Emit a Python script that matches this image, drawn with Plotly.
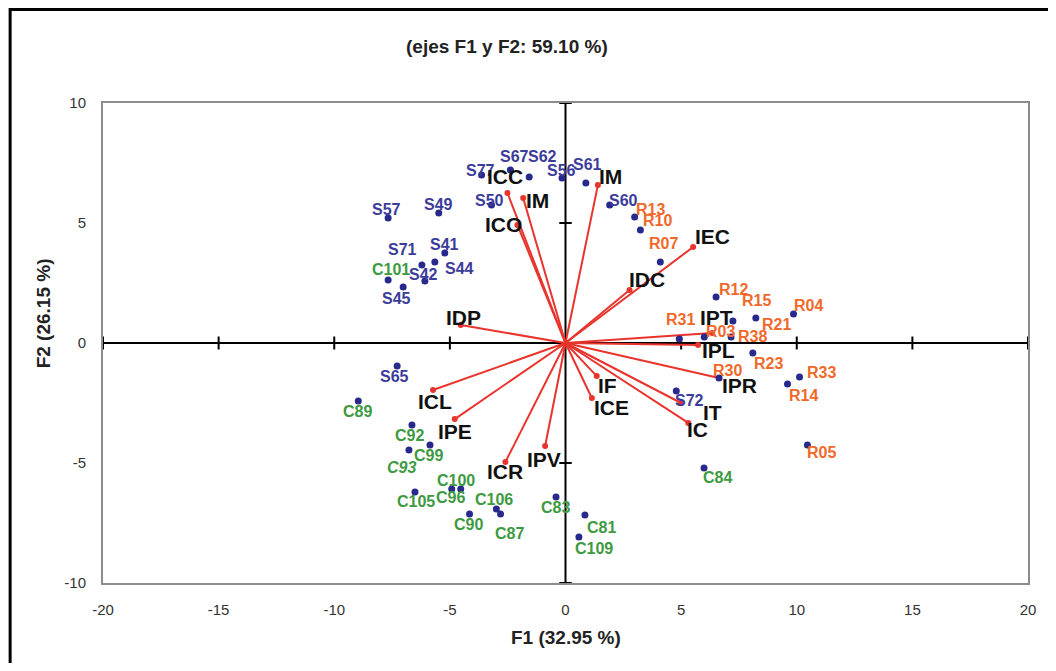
import plotly.graph_objects as go

# ---------------- data ----------------
title_text = "(ejes F1 y F2: 59.10 %)"
x_title = "F1 (32.95 %)"
y_title = "F2 (26.15 %)"

x_ticks = [-20, -15, -10, -5, 0, 5, 10, 15, 20]
x_tick_text = ["-20", "-15", "-10", "-5", "0", "5", "10", "15", "20"]
y_ticks = [-10, -5, 0, 5, 10]
y_tick_text = ["-10", "-5", "0", "5", "10"]

# observations, group S (blue labels)
s_names = ["S77", "S67", "S62", "S56", "S61", "S50", "S57", "S49", "S71", "S41",
           "S44", "S42", "S45", "S60", "S65", "S72"]
s_x = [-3.63, -2.38, -1.57, -0.15, 0.88, -3.20, -7.67, -5.48, -6.21, -5.22,
       -5.65, -6.08, -7.02, 1.91, -7.28, 4.79]
s_y = [7.00, 7.21, 6.92, 6.88, 6.67, 5.75, 5.21, 5.42, 3.25, 3.75,
       3.38, 2.58, 2.33, 5.75, -0.96, -2.00]

# observations, group R (orange labels)
r_names = ["R13", "R10", "R07", "R12", "R15", "R04", "R21", "R31", "R03", "R38",
           "R23", "R30", "R33", "R14", "R05"]
r_x = [2.99, 3.24, 4.10, 6.51, 7.24, 9.86, 8.23, 4.92, 6.00, 7.16,
       8.10, 6.64, 10.12, 9.60, 10.46]
r_y = [5.25, 4.71, 3.38, 1.92, 0.92, 1.21, 1.04, 0.17, 0.25, 0.25,
       -0.42, -1.46, -1.42, -1.71, -4.25]

# observations, group C (green labels)
c_names = ["C101", "C89", "C92", "C99", "C93", "C100", "C105", "C96", "C106", "C90",
           "C87", "C83", "C81", "C109", "C84"]
c_x = [-7.67, -8.96, -6.64, -5.86, -6.77, -4.53, -6.51, -4.92, -2.99, -4.15,
       -2.81, -0.41, 0.84, 0.58, 5.99]
c_y = [2.63, -2.42, -3.42, -4.25, -4.46, -6.08, -6.21, -6.08, -6.92, -7.13,
       -7.13, -6.42, -7.17, -8.08, -5.21]

# variables (vectors)
v_names = ["ICC", "IM", "ICO", "IM", "IEC", "IDC", "IPT", "IPL", "IPR", "IT",
           "IC", "IF", "ICE", "IDP", "ICL", "IPE", "ICR", "IPV"]
v_x = [-2.51, -1.83, -2.08, 1.40, 5.52, 2.77, 6.34, 5.73, 6.64, 5.00,
       5.31, 1.35, 1.14, -4.53, -5.73, -4.79, -2.60, -0.88]
v_y = [6.25, 6.04, 4.92, 6.58, 4.00, 2.21, 0.42, -0.08, -1.46, -2.50,
       -3.33, -1.38, -2.29, 0.75, -1.96, -3.17, -4.96, -4.29]

# ---------------- styling ----------------
# label offsets in pixels (dx right, dy up)
s_off = [(-1, 5), (4, 13), (13, 20), (-1, 7), (2, 18), (-2, 5), (-2, 8), (0, 8), (-19, 16), (0, 9),
         (25, -7), (-1, 7), (-7, -11), (14, 5), (-3, -10), (13, -9)]
r_off = [(16, 8), (17, 9), (3, 18), (17, 7), (24, 20), (15, 8), (21, -6), (1, 19), (16, 6), (21, 1),
         (16, -10), (8, 8), (22, 5), (16, -11), (14, -7)]
c_off = [(3, 10), (-1, -10), (-2, -10), (-1, -10), (-7, -17), (-5, 8), (1, -9), (-1, -9), (-2, 10), (-1, -10),
         (9, -19), (-1, -10), (17, -12), (15, -12), (13, -9)]
v_off = [(-2, 17), (14, -2), (-14, 0), (13, 9), (19, 11), (17, 10), (4, 15), (20, -6), (20, -7), (31, -9),
         (9, -7), (11, -9), (20, -10), (3, 8), (2, -11), (0, -12), (0, -9), (-1, -14)]

BLUE_LBL = "#3c3c9a"
ORANGE_LBL = "#f0692a"
GREEN_LBL = "#3d9a42"
DOT = "#272a8c"
RED = "#e8342c"
FONT = "Liberation Sans, Arial, sans-serif"

fig = go.Figure()

# vectors
vx, vy = [], []
for x, y in zip(v_x, v_y):
    vx += [0, x, None]
    vy += [0, y, None]
fig.add_trace(go.Scatter(x=vx, y=vy, mode="lines", line=dict(color=RED, width=2),
                         hoverinfo="skip", showlegend=False))
fig.add_trace(go.Scatter(x=v_x, y=v_y, mode="markers", marker=dict(color=RED, size=6),
                         hoverinfo="skip", showlegend=False))

# observation dots
all_x = s_x + r_x + c_x
all_y = s_y + r_y + c_y
fig.add_trace(go.Scatter(x=all_x, y=all_y, mode="markers",
                         marker=dict(color=DOT, size=7),
                         hoverinfo="skip", showlegend=False))

annotations = []

def add_labels(names, xs, ys, offs, color, size):
    for n, x, y, (dx, dy) in zip(names, xs, ys, offs):
        txt = "<b>%s</b>" % n
        if n == "C93":
            txt = "<i><b>%s</b></i>" % n
        annotations.append(dict(x=x, y=y, xref="x", yref="y", text=txt, showarrow=False,
                                xshift=dx, yshift=dy, xanchor="center", yanchor="middle",
                                font=dict(family=FONT, size=size, color=color)))

add_labels(s_names, s_x, s_y, s_off, BLUE_LBL, 16)
add_labels(r_names, r_x, r_y, r_off, ORANGE_LBL, 16)
add_labels(c_names, c_x, c_y, c_off, GREEN_LBL, 16)
add_labels(v_names, v_x, v_y, v_off, "#111111", 21)

# titles
annotations.append(dict(x=0.437, y=1.117, xref="paper", yref="paper", text="<b>%s</b>" % title_text,
                        showarrow=False, xanchor="center", yanchor="middle",
                        font=dict(family=FONT, size=19, color="#222222")))
annotations.append(dict(x=0.50, y=-0.1125, xref="paper", yref="paper", text="<b>%s</b>" % x_title,
                        showarrow=False, xanchor="center", yanchor="middle",
                        font=dict(family=FONT, size=19, color="#222222")))
annotations.append(dict(x=-0.0645, y=0.5625, xref="paper", yref="paper", text="<b>%s</b>" % y_title,
                        showarrow=False, textangle=-90, xanchor="center", yanchor="middle",
                        font=dict(family=FONT, size=19, color="#222222")))

shapes = []
# central axes
shapes.append(dict(type="line", xref="x", yref="y", x0=x_ticks[0], x1=x_ticks[-1], y0=0, y1=0,
                   line=dict(color="black", width=2), layer="below"))
shapes.append(dict(type="line", xref="x", yref="y", x0=0, x1=0, y0=y_ticks[0], y1=y_ticks[-1],
                   line=dict(color="black", width=2), layer="below"))
for t in x_ticks:
    if t != 0:
        shapes.append(dict(type="line", xref="x", yref="y", x0=t, x1=t, y0=-0.27, y1=0.27,
                           line=dict(color="black", width=2), layer="below"))
for t in y_ticks:
    if t != 0:
        shapes.append(dict(type="line", xref="x", yref="y", x0=-0.27, x1=0.27, y0=t, y1=t,
                           line=dict(color="black", width=2), layer="below"))
# outer frame (top and left visible)
shapes.append(dict(type="rect", xref="paper", yref="paper", x0=-0.1004, x1=1.2, y0=-0.4, y1=1.1948,
                   line=dict(color="black", width=3)))

# page body has an 8px margin, so the figure is sized/placed to compensate
fig.update_layout(
    width=1040, height=655,
    margin=dict(l=95, r=14, t=95, b=80),
    paper_bgcolor="white", plot_bgcolor="white",
    showlegend=False,
    annotations=annotations,
    shapes=shapes,
    hovermode=False,
)
fig.update_xaxes(range=[-20, 20], tickvals=x_ticks, ticktext=x_tick_text, showgrid=False, zeroline=False,
                 showline=True, mirror=True, linecolor="#8c8c8c", linewidth=2,
                 ticks="outside", ticklen=12, tickcolor="rgba(0,0,0,0)",
                 tickfont=dict(family=FONT, size=15, color="#333333"))
fig.update_yaxes(range=[-10, 10], tickvals=y_ticks, ticktext=y_tick_text, showgrid=False, zeroline=False,
                 showline=True, mirror=True, linecolor="#8c8c8c", linewidth=2,
                 ticks="outside", ticklen=12, tickcolor="rgba(0,0,0,0)",
                 tickfont=dict(family=FONT, size=15, color="#333333"))

fig.write_html("out.html")
